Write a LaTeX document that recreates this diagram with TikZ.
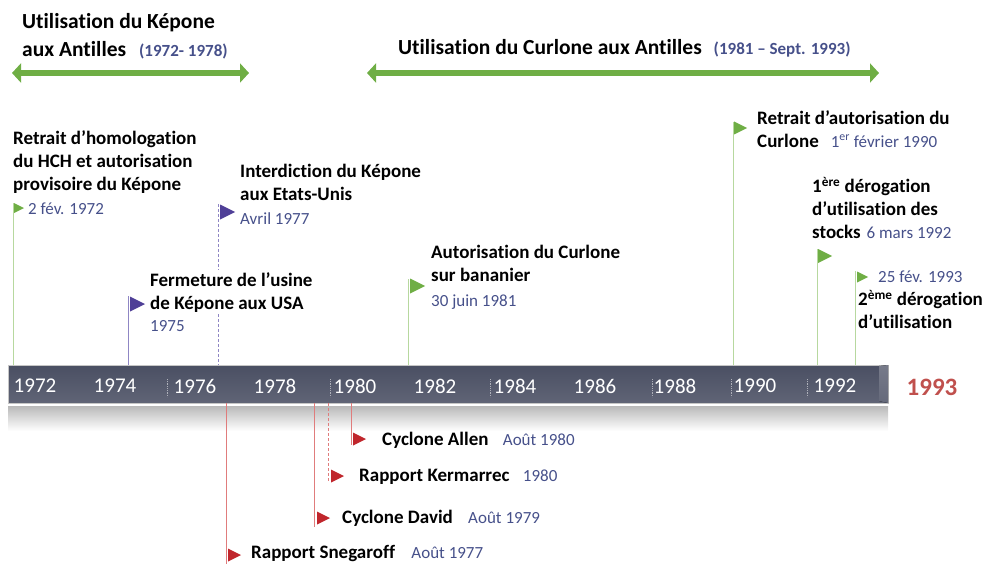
\documentclass[tikz,border=0pt]{standalone}
\usepackage{fontspec}
\setmainfont{Carlito}[Ligatures=NoCommon]
\usepackage{xcolor}
\usepackage{tikz}
\usetikzlibrary{arrows.meta, positioning}

\definecolor{kgreen}{HTML}{6FAE45}
\definecolor{lgreen}{HTML}{B7D89F}
\definecolor{kpurple}{HTML}{4F3F97}
\definecolor{lpurple}{HTML}{8F86C4}
\definecolor{kred}{HTML}{C0262C}
\definecolor{lred}{HTML}{E07C7C}
\definecolor{datec}{HTML}{46508A}
\definecolor{barc}{HTML}{4A4F63}
\definecolor{yearred}{HTML}{C0504D}

\newcommand{\evfont}{\fontsize{19}{23}\selectfont\bfseries}
\newcommand{\dtfont}{\fontsize{17}{20}\selectfont\mdseries\color{datec}}
\newcommand{\ttfont}{\fontsize{21.5}{28}\selectfont\bfseries}
\newcommand{\tdfont}{\fontsize{17}{20}\selectfont\bfseries\color{datec}}

\begin{document}
\begin{tikzpicture}[x=1pt,y=-1pt,node distance=14pt,
  evt/.style={font=\evfont, align=left, anchor=north west, inner sep=0pt},
  dte/.style={font=\dtfont, anchor=west, inner sep=0pt},
  ttl/.style={font=\ttfont, align=left, anchor=west, inner sep=0pt},
  yr/.style={font=\fontsize{21}{21}\selectfont, text=white, inner sep=0pt},
  usage/.style={kgreen, line width=6pt, {Triangle[length=9pt,width=19pt]}-{Triangle[length=9pt,width=19pt]}},
  gline/.style={lgreen, line width=0.8pt},
  pline/.style={lpurple, line width=0.8pt},
  rline/.style={lred, line width=0.8pt},
  sepline/.style={white!55!barc, line width=0.8pt, densely dotted},
  flag/.pic={\fill[pic actions] (0,-1) -- (2,0) -- (0,1) -- cycle;}]
\useasboundingbox (0,0) rectangle (987,564);

% periods of use
\node[ttl] (kepT) at (22,36) {Utilisation du Képone\\aux Antilles\hspace{13pt}{\tdfont (1972- 1978)}};
\coordinate (kepL) at (12,73);
\coordinate (kepR) at (249,73);
\draw[usage] (kepL) -- (kepR);
\node[ttl] (curT) at (398,48) {Utilisation du Curlone aux Antilles\hspace{12pt}{\tdfont (1981 – Sept. 1993)}};
\coordinate (curL) at (367,73);
\coordinate (curR) at (879,73);
\draw[usage] (curL) -- (curR);

% time bar
\fill[top color=gray!55, bottom color=white] (8,406) rectangle (888,431);
\node[minimum width=880pt, minimum height=38pt, inner sep=0pt, top color=barc, bottom color=barc!88!white, draw=gray!45, line width=0.6pt] (bar) at (448,384) {};
\fill[top color=barc!75!white, bottom color=barc!85!white] (879,366) -- (888,365) -- (888,403) -- (879,401) -- cycle;
\foreach \sx in {167,330,490,652,731,807}
  \draw[sepline] (\sx,379) -- (\sx,397);
\node[yr] (y72) at (35,386) {1972};
\node[yr] (y74) at (115,386) {1974};
\node[yr] (y76) at (195,386) {1976};
\node[yr] (y78) at (275,386) {1978};
\node[yr] (y80) at (355,386) {1980};
\node[yr] (y82) at (435,386) {1982};
\node[yr] (y84) at (515,386) {1984};
\node[yr] (y86) at (595,386) {1986};
\node[yr] (y88) at (675,386) {1988};
\node[yr] (y90) at (755,386) {1990};
\node[yr] (y92) at (835,386) {1992};
\node[font=\fontsize{25}{25}\selectfont\bfseries, text=yearred, inner sep=0pt] (y93) at (932,387) {1993};

% events above the bar
\coordinate (p72) at (13,203);
\draw[gline] (p72) -- (p72 |- bar.north);
\pic[fill=kgreen, scale=5] at (14,208) {flag};
\node[evt] (hch) at (13,130) {Retrait d’homologation\\du HCH et autorisation\\provisoire du Képone};
\node[dte] (d72) at (28,209) {2 fév. 1972};

\coordinate (p77) at (218,204);
\draw[pline, densely dashed] (p77) -- (p77 |- bar.north);
\pic[fill=kpurple, scale=7.5] at (220,212) {flag};
\node[evt] (etu) at (240,164) {Interdiction du Képone\\aux Etats-Unis};
\node[dte] (d77) at (240,219) {Avril 1977};

\coordinate (p75) at (128,296);
\draw[pline] (p75) -- (p75 |- bar.north);
\pic[fill=kpurple, scale=7.5] at (130,304) {flag};
\node[evt, fill=white, inner sep=2pt] (usa) at (148,270) {Fermeture de l’usine\\de Képone aux USA};
\node[dte] (d75) at (150,326) {1975};

\coordinate (p81) at (408,279);
\draw[gline] (p81) -- (p81 |- bar.north);
\pic[fill=kgreen, scale=7.5] at (410,286) {flag};
\node[evt] (ban) at (431,245) {Autorisation du Curlone\\sur bananier};
\node[dte] (d81) at (431,302) {30 juin 1981};

\coordinate (p90) at (733,122);
\draw[gline] (p90) -- (p90 |- bar.north);
\pic[fill=kgreen, scale=6.5] at (734,128) {flag};
\node[evt] (ret) at (757,110) {Retrait d’autorisation du\\Curlone\hspace{12pt}{\dtfont 1\textsuperscript{er} février 1990}};

\coordinate (p92) at (817,249);
\draw[gline] (p92) -- (p92 |- bar.north);
\pic[fill=kgreen, scale=7] at (818,256) {flag};
\node[evt] (der1) at (812,177) {1\textsuperscript{ère} dérogation\\d’utilisation des\\stocks\hspace{6pt}{\dtfont 6 mars 1992}};

\coordinate (p93) at (855,271);
\draw[gline] (p93) -- (p93 |- bar.north);
\pic[fill=kgreen, scale=5.5] at (857,277) {flag};
\node[dte] (d93) at (878,277) {25 fév. 1993};
\node[evt] (der2) at (858,290) {2\textsuperscript{ème} dérogation\\d’utilisation};

% events below the bar
\coordinate (q80a) at (351,445);
\draw[rline] (bar.south -| q80a) -- (q80a);
\pic[fill=kred, scale=6.5] at (353,439) {flag};
\node[evt, anchor=west] (all) at (382,440) {Cyclone Allen};
\node[dte, base right=of all] (d80a) {Août 1980};

\coordinate (q80k) at (328,482);
\draw[rline, densely dashed] (bar.south -| q80k) -- (q80k);
\pic[fill=kred, scale=6.5] at (331,476) {flag};
\node[evt, anchor=west] (ker) at (359,477) {Rapport Kermarrec};
\node[dte, base right=13pt of ker] (d80k) {1980};

\coordinate (q79) at (314,527);
\draw[rline] (bar.south -| q79) -- (q79);
\pic[fill=kred, scale=6.5] at (317,518) {flag};
\node[evt, anchor=west] (dav) at (342,518) {Cyclone David};
\node[dte, base right=15pt of dav] (d79) {Août 1979};

\coordinate (q77) at (226,564);
\draw[rline] (bar.south -| q77) -- (q77);
\pic[fill=kred, scale=6.5] at (228,555) {flag};
\node[evt, anchor=west] (sne) at (251,554) {Rapport Snegaroff};
\node[dte, base right=16pt of sne] (d77s) {Août 1977};
\end{tikzpicture}
\end{document}
